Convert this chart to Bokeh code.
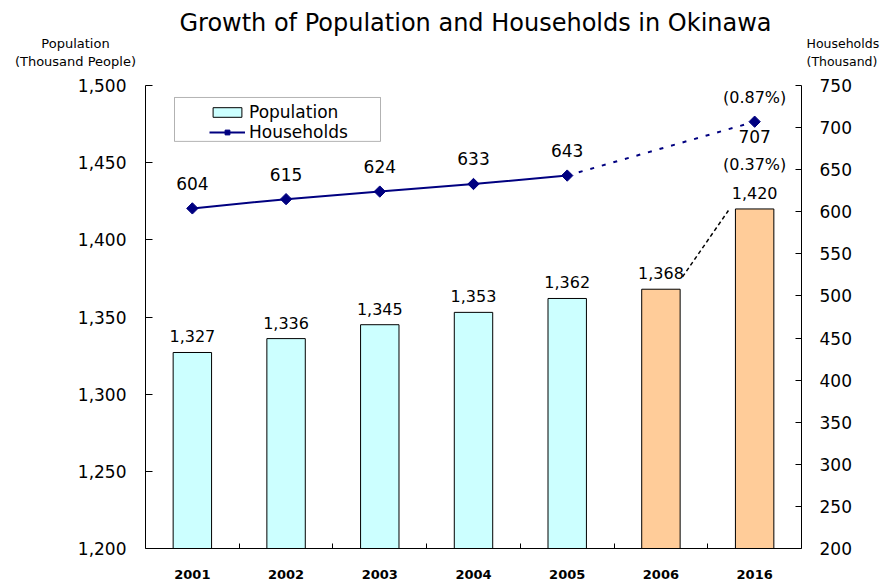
import math
from bokeh.plotting import figure
from bokeh.layouts import column
from bokeh.models import (Range1d, LinearAxis, FixedTicker, NumeralTickFormatter,
                          ColumnDataSource, Legend, LegendItem, BoxAnnotation)
from bokeh.core.properties import value
from bokeh.embed import file_html
from bokeh.resources import INLINE

# ---------------- data ----------------
years = ["2001", "2002", "2003", "2004", "2005", "2006", "2016"]
population = [1327, 1336, 1345, 1353, 1362, 1368, 1420]
pop_colors = ["#CCFFFF", "#CCFFFF", "#CCFFFF", "#CCFFFF", "#CCFFFF", "#FFCC99", "#FFCC99"]
hh_years = ["2001", "2002", "2003", "2004", "2005", "2016"]
households = [604, 615, 624, 633, 643, 707]
pop_growth = "(0.37%)"
hh_growth = "(0.87%)"
left_ticks = [1200, 1250, 1300, 1350, 1400, 1450, 1500]
right_ticks = [200, 250, 300, 350, 400, 450, 500, 550, 600, 650, 700, 750]
title_text = "Growth of Population and Households in Okinawa"
left_title = ["Population", "(Thousand  People)"]
right_title = ["Households", "(Thousand)"]

FONT = "DejaVu Sans"
NAVY = "#000080"

# category slots: each year occupies one unit-wide slot, centred at i + 0.5
pos = {y: i + 0.5 for i, y in enumerate(years)}
bar_x = [pos[y] for y in years]
hh_x = [pos[y] for y in hh_years]

# ---------------- layout geometry (pixels) ----------------
W = 885
HEAD = 75                      # header strip with title + axis titles
H = 506                        # main chart
FL, FR = 145, 801              # frame left / right
FT_M, FB_M = 10, 32            # frame top / bottom borders inside main chart
FT = HEAD + FT_M               # frame top in page pixels
FB = HEAD + H - FB_M           # frame bottom in page pixels
Y0, Y1 = left_ticks[0], left_ticks[-1]


def xdata(px):
    return (px - FL) * len(years) / (FR - FL)


def ydata(py):
    return Y1 - (py - FT) * (Y1 - Y0) / (FB - FT)


# ---------------- header ----------------
head = figure(width=W, height=HEAD, x_range=Range1d(0, W), y_range=Range1d(HEAD, 0),
              x_axis_type=None, y_axis_type=None, output_backend="svg",
              toolbar_location=None, min_border=0, outline_line_color=None,
              frame_align=False)
head.grid.visible = False
head.text(x=[475], y=[22], text=[title_text], text_align="center", text_baseline="middle",
          text_font=value(FONT), text_font_size="24px", text_color="black")
head.text(x=[75, 77], y=[43, 61], text=left_title, text_align="center",
          text_baseline="middle", text_font=value(FONT), text_font_size="13px",
          text_color="black")
head.text(x=[806, 806], y=[43, 61], text=right_title, text_align="left",
          text_baseline="middle", text_font=value(FONT), text_font_size="12.5px",
          text_color="black")

# ---------------- main chart ----------------
p = figure(width=W, height=H, x_range=Range1d(0, len(years)), y_range=Range1d(Y0, Y1),
           x_axis_type=None, y_axis_type=None, output_backend="svg",
           toolbar_location=None, min_border_left=FL, min_border_right=W - FR,
           min_border_top=FT_M, min_border_bottom=FB_M, outline_line_color=None,
           background_fill_color="white", border_fill_color="white",
           frame_align=False)
p.extra_y_ranges = {"hh": Range1d(right_ticks[0], right_ticks[-1])}

left = LinearAxis(ticker=FixedTicker(ticks=left_ticks, minor_ticks=[]),
                  formatter=NumeralTickFormatter(format="0,0"))
left.major_tick_in = 7
left.major_tick_out = 0
left.minor_tick_line_color = None
left.major_label_standoff = 19
left.major_label_text_font = FONT
left.major_label_text_font_size = "17px"
left.major_label_text_color = "black"
p.add_layout(left, "left")

right = LinearAxis(y_range_name="hh", ticker=FixedTicker(ticks=right_ticks, minor_ticks=[]))
right.major_tick_in = 6
right.major_tick_out = 0
right.minor_tick_line_color = None
right.major_label_standoff = 18
right.major_label_text_font = FONT
right.major_label_text_font_size = "17px"
right.major_label_text_color = "black"
p.add_layout(right, "right")

bounds = [i + 1 for i in range(len(years) - 1)]
bottom = LinearAxis(ticker=FixedTicker(ticks=bar_x, minor_ticks=bounds),
                    major_label_overrides={pos[y]: y for y in years})
bottom.major_tick_line_color = None
bottom.minor_tick_in = 5
bottom.minor_tick_out = 0
bottom.major_label_standoff = 15
bottom.major_label_text_font = FONT
bottom.major_label_text_font_size = "13px"
bottom.major_label_text_font_style = "bold"
bottom.major_label_text_color = "black"
p.add_layout(bottom, "below")

# bars
src = ColumnDataSource(dict(x=bar_x, top=population, color=pop_colors,
                            lab=[f"{v:,}" for v in population]))
bars = p.vbar(x="x", top="top", bottom=Y0, width=0.41, fill_color="color",
              line_color="black", line_width=1, source=src)
p.text(x="x", y="top", text="lab", source=src, text_align="center",
       text_baseline="alphabetic", y_offset=-16, text_font=value(FONT),
       text_font_size="16px", text_color="black")

# connector from 2006 label to 2016 bar
p.segment(x0=[bar_x[5] + 0.23], y0=[population[5] + 8],
          x1=[bar_x[6] - 0.28], y1=[population[6] - 1],
          line_color="black", line_width=1.5, line_dash="4 3")

p.text(x=[bar_x[6]], y=[population[6]], text=[pop_growth], text_align="center",
       text_baseline="alphabetic", y_offset=-44, text_font=value(FONT),
       text_font_size="16px", text_color="black")

# households
hh_line = p.line(x=hh_x[:5], y=households[:5], line_color=NAVY, line_width=2,
                 y_range_name="hh")
p.line(x=hh_x[4:], y=households[4:], line_color=NAVY, line_width=2,
       line_dash="4 8", y_range_name="hh")
hh_pts = p.scatter(x=hh_x, y=households, marker="square", angle=math.pi / 4,
                   size=8, fill_color=NAVY, line_color=NAVY, y_range_name="hh")
p.text(x=hh_x[:5], y=households[:5], text=[str(v) for v in households[:5]],
       text_align="center", text_baseline="alphabetic", y_offset=-25,
       text_font=value(FONT), text_font_size="17px", text_color="black",
       y_range_name="hh")
p.text(x=hh_x[5:], y=households[5:], text=[str(v) for v in households[5:]],
       text_align="center", text_baseline="alphabetic", y_offset=15,
       text_font=value(FONT), text_font_size="17px", text_color="black",
       y_range_name="hh")
p.text(x=hh_x[5:], y=households[5:], text=[hh_growth],
       text_align="center", text_baseline="alphabetic", y_offset=-24,
       text_font=value(FONT), text_font_size="16px", text_color="black",
       y_range_name="hh")

# legend
box = BoxAnnotation(left=xdata(174), right=xdata(380), top=ydata(97), bottom=ydata(141),
                    fill_color="white", fill_alpha=1, line_color="black", line_width=1)
p.add_layout(box)
legend = Legend(items=[LegendItem(label="Population", renderers=[bars]),
                       LegendItem(label="Households", renderers=[hh_line, hh_pts])],
                location=(64, 406), padding=0, spacing=-2, margin=0,
                glyph_width=36, glyph_height=12, label_height=18, label_standoff=4,
                label_text_font=FONT, label_text_font_size="17px",
                label_text_color="black",
                border_line_color=None, background_fill_alpha=0)
p.add_layout(legend)

layout = column(head, p, spacing=0)
open("out.html", "w").write(file_html(layout, INLINE))
